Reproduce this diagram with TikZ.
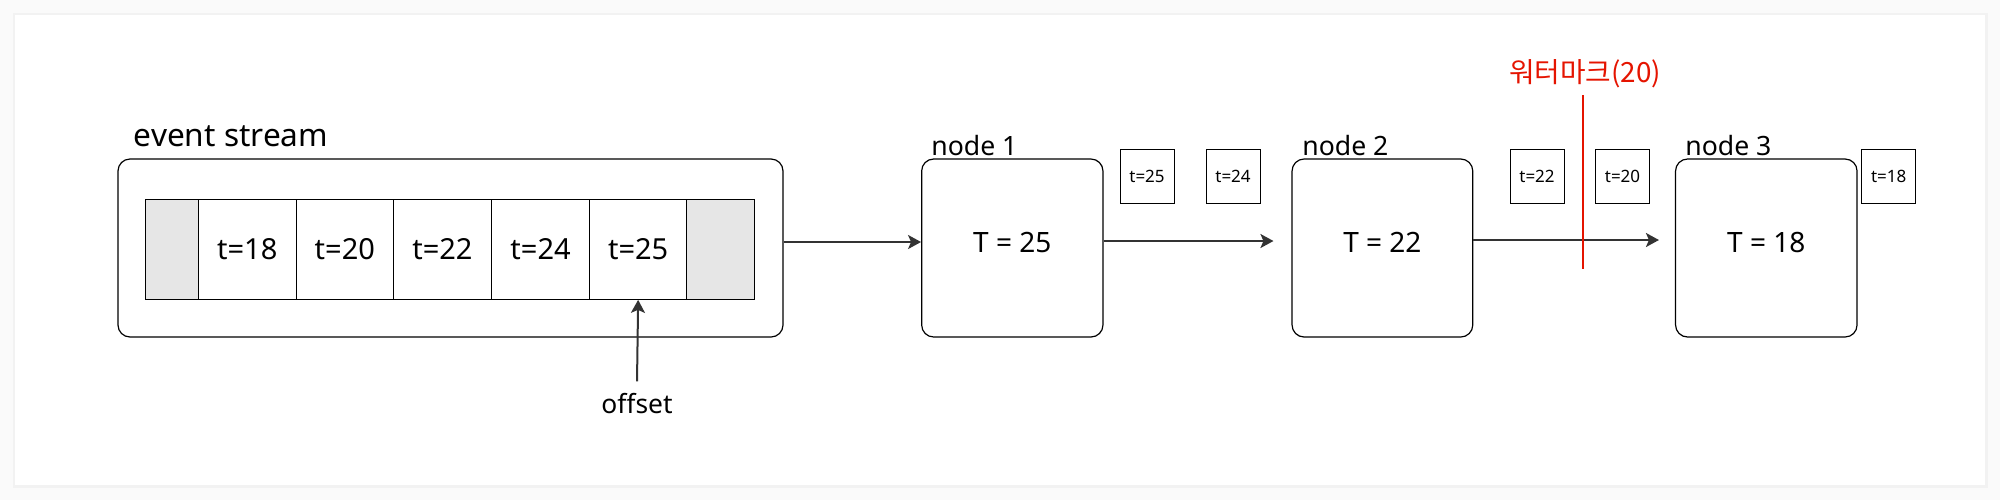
\documentclass[tikz,border=0pt]{standalone}
\usepackage{fontspec}
\setmainfont{Noto Sans}
\newfontfamily\kr{Noto Sans CJK KR}
\usetikzlibrary{arrows.meta}
\definecolor{linec}{HTML}{333333}
\definecolor{cellgray}{HTML}{E6E6E6}
\definecolor{wred}{HTML}{E51400}
\definecolor{bgc}{HTML}{FAFAFA}
\tikzset{
  rbox/.style={draw=black, line width=0.6pt, rounded corners=6pt, inner sep=0pt},
  cellbox/.style={draw=black, line width=0.55pt, inner sep=0pt, minimum height=50pt, font=\fontsize{14.5}{16}\selectfont},
  graycell/.style={cellbox, fill=cellgray},
  tiny/.style={draw=black, line width=0.45pt, inner sep=0pt, minimum width=27pt, minimum height=27pt, font=\fontsize{8.5}{10}\selectfont},
  lbl/.style={anchor=base west, inner sep=0pt, font=\fontsize{13.3}{15}\selectfont},
  valtext/.style={inner sep=0pt, font=\fontsize{14}{16}\selectfont},
  arr/.style={draw=linec, line width=1pt, -{Stealth[length=6.5pt,width=7pt,inset=1.5pt]}},
}
\begin{document}
\begin{tikzpicture}[x=0.5pt,y=-0.5pt]
\useasboundingbox (0,0) rectangle (2000,500);
\fill[bgc] (0,0) rectangle (2000,500);
\fill[gray!10] (13,13) rectangle (1988,488);
\fill[white] (15,15) rectangle (1985,485);

% event stream
\node[rbox, minimum width=332.5pt, minimum height=89pt] (es) at (450.5,248) {};
\node[lbl, font=\fontsize{15.8}{18}\selectfont] (eslbl) at (133.5,146.7) {event stream};
\node[graycell, minimum width=26.35pt] (g1) at (171.85,249.3) {};
\node[cellbox, minimum width=49.1pt] (c18) at (247.3,249.3) {t=18};
\node[cellbox, minimum width=48.45pt] (c20) at (344.85,249.3) {t=20};
\node[cellbox, minimum width=49.1pt] (c22) at (442.4,249.3) {t=22};
\node[cellbox, minimum width=49.1pt] (c24) at (540.6,249.3) {t=24};
\node[cellbox, minimum width=48.45pt] (c25) at (638.15,249.3) {t=25};
\node[graycell, minimum width=33.95pt] (g2) at (720.55,249.3) {};
\node[inner sep=0pt, font=\fontsize{13.2}{15}\selectfont] (off) at (637,404) {offset};
\draw[arr] ([yshift=6pt]off.north) -- (c25.south);

% processing nodes
\node[rbox, minimum width=90.65pt, minimum height=89pt] (n1) at (1012.3,248) {};
\node[rbox, minimum width=90.35pt, minimum height=89pt] (n2) at (1382.4,248) {};
\node[rbox, minimum width=90.75pt, minimum height=89pt] (n3) at (1766.3,248) {};
\node[valtext] (n1t) at ([yshift=3pt]n1.center) {T = 25};
\node[valtext] (n2t) at ([yshift=3pt]n2.center) {T = 22};
\node[valtext] (n3t) at ([yshift=3pt]n3.center) {T = 18};
\node[lbl] (n1lbl) at (931,155) {node 1};
\node[lbl] (n2lbl) at (1302,155) {node 2};
\node[lbl] (n3lbl) at (1685,155) {node 3};

% in-flight events
\node[tiny] (e25) at (1147,176) {t=25};
\node[tiny] (e24) at (1233,176) {t=24};
\node[tiny] (e22) at (1537,176) {t=22};
\node[tiny] (e20) at (1622.5,176) {t=20};
\node[tiny] (e18) at (1888.7,176) {t=18};

% connectors
\draw[arr] ([yshift=3pt]es.east) -- ([yshift=3pt]n1.west);
\draw[arr] ([yshift=3.5pt]n1.east) -- ([xshift=-9pt,yshift=3.5pt]n2.west);
\draw[arr] ([yshift=4pt]n2.east) -- ([xshift=-8pt,yshift=4pt]n3.west);

% watermark
\coordinate (wtop) at (1583,95);
\coordinate (wbot) at (1583,269);
\draw[wred, line width=1pt] (wtop) -- (wbot);
\node[text=wred, inner sep=0pt, font=\kr\fontsize{13.9}{16}\selectfont] (wm) at (1585,74) {워터마크(20)};
\end{tikzpicture}
\end{document}
